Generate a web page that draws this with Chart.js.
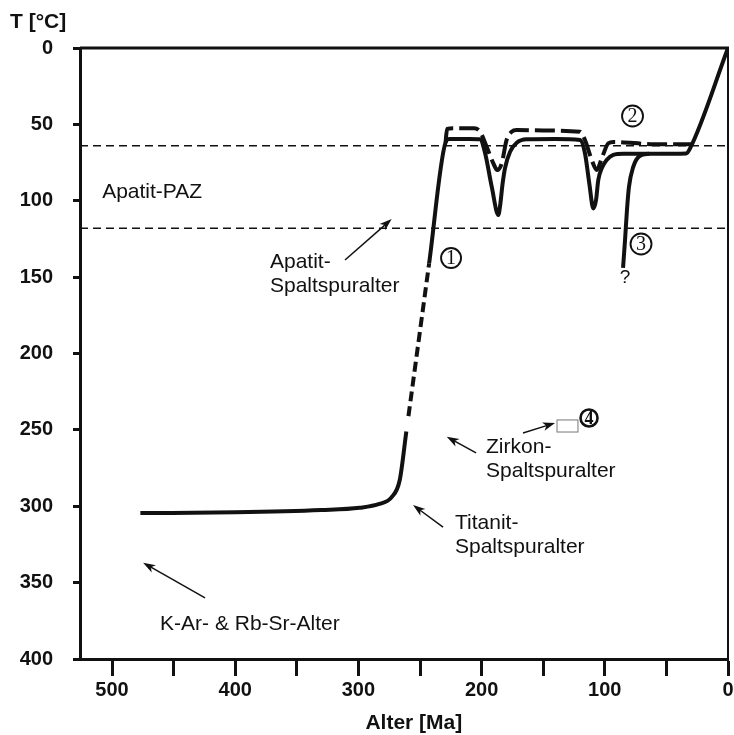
<!DOCTYPE html>
<html>
<head>
<meta charset="utf-8">
<script src="https://cdn.jsdelivr.net/npm/chart.js@4.4.0/dist/chart.umd.min.js"></script>
<style>
  html, body { margin: 0; padding: 0; background: #fff; }
  #wrap { width: 734px; height: 735px; }
</style>
</head>
<body>
<div id="wrap"><canvas id="tChart"></canvas></div>
<script>
// cooling paths: age [Ma] and temperature [°C]
const path1Age  = [477, 400, 330, 299, 283, 273, 266.5, 261.1, 259.4, 242.6, 229.3, 226, 210, 201.3, 197.2, 191.8, 186.4, 185.1, 182.9, 181, 176.9, 171.5, 163.4, 140, 120.1, 116.1, 112.6, 109.3, 107.1, 105.3, 102.5, 98.5, 93.1, 85, 60, 34, 31, 0];
const path1Temp = [304.5, 304, 302.5, 301, 298.5, 294, 283, 251, 241, 141, 62, 59.5, 59.5, 59.8, 68.7, 90.8, 109.3, 103.9, 88.4, 78.6, 67.9, 62, 59.8, 59.5, 60.2, 68.9, 88.6, 105, 99.5, 86.4, 78.8, 73.3, 70, 69.2, 69.3, 69, 66, 0];

const path2Age  = [229.3, 228, 222, 206, 201.3, 195.9, 190.5, 187.3, 183.7, 179.7, 175.6, 171.5, 150, 120.1, 116.1, 110.6, 106.5, 102.5, 97.1, 93, 60, 30];
const path2Temp = [62, 53, 52.5, 52.5, 54.8, 64.6, 75.5, 79.9, 75.5, 60.2, 54.8, 53.7, 54, 54.8, 60.2, 73.3, 79.9, 72.2, 62.4, 61.5, 63, 63];

const path3Age  = [85.2, 83.6, 82, 80.4, 77, 71.4, 64];
const path3Temp = [144, 126, 106, 91, 78, 70.5, 69.3];

// apatite partial annealing zone
const pazTop = 64;
const pazBottom = 118;

const ageMin = 0, ageMax = 526;
const ageTicks = [500, 400, 300, 200, 100, 0];
const tempTicks = [0, 50, 100, 150, 200, 250, 300, 350, 400];

const INK = '#111';
const FONT = '"Liberation Sans", Arial, sans-serif';

const pts = (xs, ys) => xs.map((v, i) => ({ x: v, y: ys[i] }));

// dashed stretch of path 1 (fission track ages), with one open gap below it
function path1Dash(c) {
  const lo = Math.min(c.p0.parsed.y, c.p1.parsed.y), hi = Math.max(c.p0.parsed.y, c.p1.parsed.y);
  if (lo >= 141 && hi <= 241) return [10, 5];
  return undefined;
}
function path1Color(c) {
  const lo = Math.min(c.p0.parsed.y, c.p1.parsed.y), hi = Math.max(c.p0.parsed.y, c.p1.parsed.y);
  if (lo >= 241 && hi <= 251) return 'rgba(0,0,0,0)';
  return INK;
}

const notes = {
  id: 'notes',
  afterDraw(chart) {
    const { ctx, chartArea: a, scales: { x, y } } = chart;
    const px = v => x.getPixelForValue(v);
    const py = v => y.getPixelForValue(v);
    ctx.save();

    // top and right frame
    ctx.strokeStyle = INK;
    ctx.lineWidth = 3;
    ctx.beginPath(); ctx.moveTo(a.left, a.top); ctx.lineTo(a.right + 1, a.top); ctx.stroke();
    ctx.lineWidth = 2;
    ctx.beginPath(); ctx.moveTo(a.right, a.top); ctx.lineTo(a.right, a.bottom); ctx.stroke();

    // axis titles
    ctx.fillStyle = INK;
    ctx.font = 'bold 21px ' + FONT;
    ctx.textAlign = 'left';
    ctx.textBaseline = 'middle';
    ctx.fillText('T [°C]', 10, 22);
    ctx.textAlign = 'center';
    ctx.fillText('Alter [Ma]', px(255), chart.height - 12);

    // labels
    ctx.font = '21px ' + FONT;
    ctx.textAlign = 'left';
    ctx.textBaseline = 'alphabetic';
    const label = (lines, ma, t) => lines.forEach((s, i) => ctx.fillText(s, px(ma), py(t) + i * 24));
    label(['Apatit-PAZ'], 508, 98.2);
    label(['Apatit-', 'Spaltspuralter'], 371.8, 144);
    label(['Zirkon-', 'Spaltspuralter'], 196.4, 265);
    label(['Titanit-', 'Spaltspuralter'], 221.6, 315);
    label(['K-Ar- & Rb-Sr-Alter'], 461, 381);
    ctx.font = '19px ' + FONT;
    ctx.textAlign = 'center';
    ctx.textBaseline = 'middle';
    ctx.fillText('?', px(83.6), py(150.6));

    // arrows
    const arrow = (m0, t0, m1, t1) => {
      const x0 = px(m0), y0 = py(t0), x1 = px(m1), y1 = py(t1);
      const ang = Math.atan2(y1 - y0, x1 - x0);
      ctx.strokeStyle = INK;
      ctx.lineWidth = 1.5;
      ctx.beginPath(); ctx.moveTo(x0, y0);
      ctx.lineTo(x1 - 8 * Math.cos(ang), y1 - 8 * Math.sin(ang)); ctx.stroke();
      ctx.beginPath();
      ctx.moveTo(x1, y1);
      ctx.lineTo(x1 - 13 * Math.cos(ang - 0.33), y1 - 13 * Math.sin(ang - 0.33));
      ctx.lineTo(x1 - 9 * Math.cos(ang), y1 - 9 * Math.sin(ang));
      ctx.lineTo(x1 - 13 * Math.cos(ang + 0.33), y1 - 13 * Math.sin(ang + 0.33));
      ctx.closePath();
      ctx.fillStyle = INK;
      ctx.fill();
    };
    arrow(310.9, 138.8, 273, 112);
    arrow(204.5, 265.1, 228.3, 254.5);
    arrow(166.4, 252, 140.4, 245.5);
    arrow(231.3, 313.6, 255.7, 299.2);
    arrow(424.5, 360, 474.8, 337);

    // zircon sample box
    ctx.strokeStyle = '#777';
    ctx.lineWidth = 1;
    ctx.strokeRect(px(138.8), py(243.5), px(121.8) - px(138.8), py(251.4) - py(243.5));

    // path numbers in circles
    const marker = (num, ma, t, r, bold) => {
      const cx = px(ma), cy = py(t);
      ctx.strokeStyle = INK;
      ctx.lineWidth = bold ? 2.6 : 1.9;
      ctx.beginPath(); ctx.arc(cx, cy, r, 0, Math.PI * 2); ctx.stroke();
      ctx.fillStyle = INK;
      ctx.font = (bold ? 'bold 18px ' : '20px ') + '"Liberation Serif", "Times New Roman", serif';
      ctx.textAlign = 'center';
      ctx.textBaseline = 'middle';
      ctx.fillText(num, cx, cy + 1);
    };
    marker('1', 224.8, 137.5, 10, false);
    marker('2', 77.5, 44.5, 10.5, false);
    marker('3', 70.6, 128.3, 10.5, false);
    marker('4', 112.8, 242.2, 8.5, true);
    ctx.restore();
  }
};

const lineBase = { pointRadius: 0, fill: false, borderColor: INK, cubicInterpolationMode: 'monotone' };

new Chart(document.getElementById('tChart'), {
  type: 'line',
  data: {
    datasets: [
      { ...lineBase, label: 'PAZ top', data: pts([ageMax, ageMin], [pazTop, pazTop]), borderWidth: 1.5, borderDash: [8, 5], cubicInterpolationMode: 'default', tension: 0 },
      { ...lineBase, label: 'PAZ bottom', data: pts([ageMax, ageMin], [pazBottom, pazBottom]), borderWidth: 1.5, borderDash: [8, 5], cubicInterpolationMode: 'default', tension: 0 },
      { ...lineBase, label: '2', data: pts(path2Age, path2Temp), borderWidth: 4, borderDash: [20, 6] },
      { ...lineBase, label: '3', data: pts(path3Age, path3Temp), borderWidth: 4 },
      { ...lineBase, label: '1', data: pts(path1Age, path1Temp), borderWidth: 4,
        segment: { borderDash: path1Dash, borderColor: path1Color } }
    ]
  },
  options: {
    responsive: true,
    maintainAspectRatio: false,
    animation: false,
    layout: { padding: { top: 48, right: 6, left: 0, bottom: 0 } },
    plugins: { legend: { display: false }, tooltip: { enabled: false } },
    scales: {
      x: {
        type: 'linear',
        reverse: true,
        min: ageMin,
        max: ageMax,
        afterFit: s => { s.height = 76; s.paddingRight = 0; s.paddingLeft = 0; },
        border: { color: INK, width: 3 },
        grid: { drawOnChartArea: false, tickLength: 17, tickWidth: 3, tickColor: INK },
        ticks: {
          stepSize: 50,
          includeBounds: false,
          autoSkip: false,
          maxRotation: 0,
          padding: 2,
          color: INK,
          font: { family: FONT, size: 20, weight: 'bold' },
          callback: v => ageTicks.includes(v) ? String(v) : ''
        }
      },
      y: {
        type: 'linear',
        reverse: true,
        min: 0,
        max: 400,
        afterFit: s => { s.width = 80; },
        border: { color: INK, width: 3 },
        grid: { drawOnChartArea: false, tickLength: 7, tickWidth: 3, tickColor: INK },
        ticks: {
          stepSize: 50,
          padding: 20,
          color: INK,
          font: { family: FONT, size: 20, weight: 'bold' },
          callback: v => tempTicks.includes(v) ? String(v) : ''
        }
      }
    }
  },
  plugins: [notes]
});
</script>
</body>
</html>
